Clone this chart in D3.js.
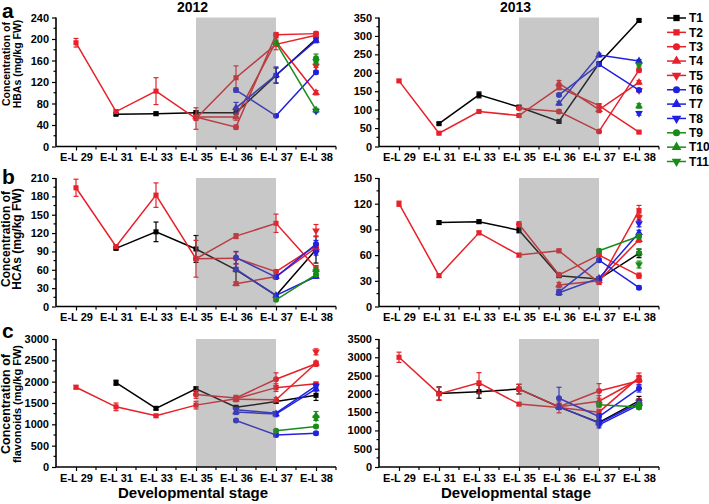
<!DOCTYPE html>
<html><head><meta charset="utf-8">
<script src="https://cdn.jsdelivr.net/npm/d3@7"></script>
<style>
html,body{margin:0;padding:0;background:#fff;}
text{font-family:"Liberation Sans",Arial,sans-serif;font-weight:bold;}
</style></head>
<body><svg id="chart" width="709" height="504"></svg>
<script>
// ---------- data ----------
const stages = ["E-L 29","E-L 31","E-L 33","E-L 35","E-L 36","E-L 37","E-L 38"];
const treatments = ["T1","T2","T3","T4","T5","T6","T7","T8","T9","T10","T11"];
const seriesColors = ["#000000","#e8202a","#e8202a","#e8202a","#e8202a","#2020e0","#2020e0","#2020e0","#178c17","#178c17","#178c17"];
const seriesShapes = ["square","square","circle","up","down","circle","up","down","circle","up","down"];
const years = ["2012","2013"];
const panelLetters = ["a","b","c"];
const yLabelLine1 = ["Concentration of","Concentration of","Concentration of"];
const yLabelLine2 = ["HBAs (mg/kg FW)","HCAs (mg/kg FW)","flavonoids (mg/kg FW)"];
const xTitle = "Developmental stage";
const yTicksA2012 = [0,40,80,120,160,200,240];
const yTicksA2013 = [0,50,100,150,200,250,300,350];
const yTicksB2012 = [0,30,60,90,120,150,180,210];
const yTicksB2013 = [0,30,60,90,120,150];
const yTicksC2012 = [0,500,1000,1500,2000,2500,3000];
const yTicksC2013 = [0,500,1000,1500,2000,2500,3000,3500];
const shadeFrom = "E-L 35", shadeTo = "E-L 37";
const N = null;

const hbas2012 = [
  [N,60,61,63,63,132,200],
  [193,65,103,52,128,190,207],
  [N,N,N,55,36,208,210],
  [N,N,N,55,55,195,100],
  [N,N,N,N,N,N,150],
  [N,N,N,N,105,57,138],
  [N,N,N,N,72,133,197],
  [N,N,N,N,N,N,66],
  [N,N,N,N,N,N,164],
  [N,N,N,N,N,193,68],
  [N,N,N,N,N,N,158]
];
const hbas2012Err = [
  [0,2,3,3,8,14,4],
  [8,3,25,20,22,10,5],
  [0,0,0,0,4,4,4],
  [0,0,0,0,6,8,4],
  [0,0,0,0,0,0,3],
  [0,0,0,0,4,2,3],
  [0,0,0,0,10,15,4],
  [0,0,0,0,0,0,3],
  [0,0,0,0,0,0,8],
  [0,0,0,0,0,4,3],
  [0,0,0,0,0,0,4]
];
const hbas2013 = [
  [N,62,140,107,68,225,342],
  [178,36,95,84,160,111,39],
  [N,N,N,104,95,41,207],
  [N,N,N,N,171,100,174],
  [N,N,N,N,N,N,152],
  [N,N,N,N,140,223,153],
  [N,N,N,N,117,248,232],
  [N,N,N,N,N,N,90],
  [N,N,N,N,N,N,N],
  [N,N,N,N,N,N,110],
  [N,N,N,N,N,N,221]
];
const hbas2013Err = [
  [0,3,8,3,3,3,3],
  [3,2,2,3,6,5,3],
  [0,0,0,3,5,3,5],
  [0,0,0,0,8,8,5],
  [0,0,0,0,0,0,4],
  [0,0,0,0,4,4,4],
  [0,0,0,0,5,5,4],
  [0,0,0,0,0,0,5],
  [0,0,0,0,0,0,0],
  [0,0,0,0,0,0,6],
  [0,0,0,0,0,0,5]
];
const hcas2012 = [
  [N,95,122,94,60,18,93],
  [194,98,182,78,115,136,63],
  [N,N,N,78,79,57,99],
  [N,N,N,N,37,49,96],
  [N,N,N,N,N,N,124],
  [N,N,N,N,80,48,102],
  [N,N,N,N,61,18,49],
  [N,N,N,N,N,N,88],
  [N,N,N,N,N,11,52],
  [N,N,N,N,N,N,60],
  [N,N,N,N,N,N,57]
];
const hcas2012Err = [
  [0,2,16,22,20,3,22],
  [14,3,20,30,4,15,4],
  [0,0,0,0,10,3,4],
  [0,0,0,0,3,3,4],
  [0,0,0,0,0,0,10],
  [0,0,0,0,10,3,6],
  [0,0,0,0,3,3,3],
  [0,0,0,0,0,0,4],
  [0,0,0,0,0,2,3],
  [0,0,0,0,0,0,3],
  [0,0,0,0,0,0,3]
];
const hcas2013 = [
  [N,98,99,89,36,32,62],
  [120,36,86,60,65,28,112],
  [N,N,N,96,37,60,36],
  [N,N,N,N,25,30,78],
  [N,N,N,N,N,N,104],
  [N,N,N,N,17,54,22],
  [N,N,N,N,16,33,86],
  [N,N,N,N,N,N,97],
  [N,N,N,N,N,65,82],
  [N,N,N,N,N,N,63],
  [N,N,N,N,N,N,49]
];
const hcas2013Err = [
  [0,2,2,3,2,2,5],
  [3,2,2,2,2,2,6],
  [0,0,0,3,2,2,3],
  [0,0,0,0,3,2,3],
  [0,0,0,0,0,0,4],
  [0,0,0,0,3,2,2],
  [0,0,0,0,3,2,3],
  [0,0,0,0,0,0,4],
  [0,0,0,0,0,2,3],
  [0,0,0,0,0,0,4],
  [0,0,0,0,0,0,4]
];
const flav2012 = [
  [N,1975,1375,1830,1400,1535,1680],
  [1870,1410,1200,1450,1600,1860,1950],
  [N,N,N,1700,1620,2057,2420],
  [N,N,N,N,1590,1574,2430],
  [N,N,N,N,N,N,2700],
  [N,N,N,N,1090,750,790],
  [N,N,N,N,1290,1240,1830],
  [N,N,N,N,1340,1260,1900],
  [N,N,N,N,N,850,950],
  [N,N,N,N,N,N,1200],
  [N,N,N,N,N,N,1150]
];
const flav2012Err = [
  [0,60,30,50,40,40,120],
  [40,90,30,90,60,90,30],
  [0,0,0,90,60,150,60],
  [0,0,0,0,60,50,50],
  [0,0,0,0,0,0,70],
  [0,0,0,0,30,40,40],
  [0,0,0,0,60,60,50],
  [0,0,0,0,50,40,50],
  [0,0,0,0,0,30,30],
  [0,0,0,0,0,0,100],
  [0,0,0,0,0,0,60]
];
const flav2013 = [
  [N,2010,2060,2130,1640,1220,1810],
  [3000,2000,2300,1720,1630,1500,2450],
  [N,N,N,2130,1650,2080,2360],
  [N,N,N,N,1650,1800,2400],
  [N,N,N,N,N,N,1780],
  [N,N,N,N,1880,1380,2150],
  [N,N,N,N,1650,1200,1750],
  [N,N,N,N,N,1150,1700],
  [N,N,N,N,N,1700,1640],
  [N,N,N,N,N,N,1720],
  [N,N,N,N,N,N,1650]
];
const flav2013Err = [
  [0,180,180,130,60,60,120],
  [140,180,280,40,150,80,120],
  [0,0,0,130,60,200,120],
  [0,0,0,0,60,150,80],
  [0,0,0,0,0,0,80],
  [0,0,0,0,300,80,100],
  [0,0,0,0,80,80,80],
  [0,0,0,0,0,80,100],
  [0,0,0,0,0,60,60],
  [0,0,0,0,0,0,60],
  [0,0,0,0,0,0,60]
];

// ---------- layout ----------
const panels = [
  {row:0,col:0,vals:hbas2012,errs:hbas2012Err,ticks:yTicksA2012},
  {row:0,col:1,vals:hbas2013,errs:hbas2013Err,ticks:yTicksA2013},
  {row:1,col:0,vals:hcas2012,errs:hcas2012Err,ticks:yTicksB2012},
  {row:1,col:1,vals:hcas2013,errs:hcas2013Err,ticks:yTicksB2013},
  {row:2,col:0,vals:flav2012,errs:flav2012Err,ticks:yTicksC2012},
  {row:2,col:1,vals:flav2013,errs:flav2013Err,ticks:yTicksC2013}
];
const colX = [[56,336],[379,659]];
const rowY = [[17.5,146.5],[178,306.5],[339,467]];
const labelCY = [64,239,404];
const labelSize1 = [10.5,12,12.5];
const labelSize2 = [10.5,12,11];

const svg = d3.select("#chart");
const symType = {square:d3.symbolSquare,circle:d3.symbolCircle,up:d3.symbolTriangle,down:d3.symbolTriangle};
const symSize = {square:26,circle:28,up:26,down:26};
function marker(g, shape, x, y, color){
  const p = d3.symbol().type(symType[shape]).size(symSize[shape])();
  g.append("path").attr("d",p).attr("fill",color)
   .attr("transform",`translate(${x},${y})`+(shape==="down"?" rotate(180)":""));
}

panels.forEach(P=>{
  const g = svg.append("g");
  const x = d3.scaleLinear().domain([-0.5,6.5]).range(colX[P.col]);
  const yMax = P.ticks[P.ticks.length-1];
  const y = d3.scaleLinear().domain([0,yMax]).range([rowY[P.row][1],rowY[P.row][0]]);
  const step = P.ticks[1]-P.ticks[0];

  P.vals.forEach((vals,i)=>{
    const color = seriesColors[i];
    const pts = vals.map((v,j)=>({j,v,e:P.errs[i][j]})).filter(d=>d.v!==null);
    const line = d3.line().x(d=>x(d.j)).y(d=>y(d.v));
    if(pts.length>1) g.append("path").attr("d",line(pts)).attr("fill","none")
      .attr("stroke",color).attr("stroke-width",1.5);
    pts.forEach(d=>{
      if(d.e>0){
        const x0=x(d.j), y1=y(d.v-d.e), y2=y(d.v+d.e);
        g.append("line").attr("x1",x0).attr("x2",x0).attr("y1",y1).attr("y2",y2).attr("stroke",color).attr("stroke-width",1.2);
        [y1,y2].forEach(yy=>g.append("line").attr("x1",x0-2.5).attr("x2",x0+2.5).attr("y1",yy).attr("y2",yy).attr("stroke",color).attr("stroke-width",1.2));
      }
      marker(g, seriesShapes[i], x(d.j), y(d.v), color);
    });
  });

  const s0 = stages.indexOf(shadeFrom), s1 = stages.indexOf(shadeTo);
  g.append("rect").attr("x",x(s0)).attr("width",x(s1)-x(s0))
    .attr("y",y(yMax)).attr("height",y(0)-y(yMax))
    .attr("fill","rgb(110,110,110)").attr("fill-opacity",0.38);

  const yAxis = d3.axisLeft(y).tickValues(P.ticks).tickSize(4).tickPadding(3).tickFormat(d3.format("d"));
  const ya = g.append("g").attr("transform",`translate(${colX[P.col][0]},0)`).call(yAxis);
  const minorY = d3.range(step/2, yMax, step);
  ya.selectAll(".minor").data(minorY).enter().append("line").attr("class","minor")
    .attr("x1",-2.5).attr("x2",0).attr("y1",d=>y(d)).attr("y2",d=>y(d)).attr("stroke","#000").attr("stroke-width",1.2);
  const xAxis = d3.axisBottom(x).tickValues(d3.range(stages.length)).tickFormat(i=>stages[i]).tickSize(4).tickPadding(3);
  const xa = g.append("g").attr("transform",`translate(0,${rowY[P.row][1]})`).call(xAxis);
  xa.selectAll(".minor").data(d3.range(0.5,6.6,1)).enter().append("line").attr("class","minor")
    .attr("x1",d=>x(d)).attr("x2",d=>x(d)).attr("y1",0).attr("y2",3).attr("stroke","#000").attr("stroke-width",1.2);
  [ya,xa].forEach(a=>{
    a.select(".domain").attr("stroke","#000").attr("stroke-width",1.6);
    a.selectAll(".tick line").attr("stroke","#000").attr("stroke-width",1.2);
    a.selectAll(".tick text").attr("fill","#000").style("font-size","11px").style("font-weight","bold")
      .style("font-family","'Liberation Sans',Arial,sans-serif");
  });
  ya.select(".domain").attr("d",`M0,${y(yMax)}V${y(0)}`);
  xa.select(".domain").attr("d",`M${colX[P.col][0]},0H${colX[P.col][1]}`);

  if(P.row===0){
    svg.append("text").attr("x", P.col===0?192.5:515.5).attr("y",12)
      .attr("text-anchor","middle").style("font-size","14px").text(years[P.col]);
  }
  if(P.row===2){
    svg.append("text").attr("x",(colX[P.col][0]+colX[P.col][1])/2-3).attr("y",498)
      .attr("text-anchor","middle").style("font-size","15px").text(xTitle);
  }
  if(P.col===0){
    const cy = labelCY[P.row];
    svg.append("text").attr("transform",`translate(10,${cy}) rotate(-90)`).attr("text-anchor","middle")
      .style("font-size",labelSize1[P.row]+"px").text(yLabelLine1[P.row]);
    svg.append("text").attr("transform",`translate(21,${cy}) rotate(-90)`).attr("text-anchor","middle")
      .style("font-size",labelSize2[P.row]+"px").text(yLabelLine2[P.row]);
    svg.append("text").attr("x",2).attr("y",[18,184,338][P.row]).style("font-size","21px").text(panelLetters[P.row]);
  }
});

const lg = svg.append("g");
treatments.forEach((t,i)=>{
  const yy = 18 + i*14.35;
  lg.append("line").attr("x1",667).attr("x2",686).attr("y1",yy).attr("y2",yy).attr("stroke",seriesColors[i]).attr("stroke-width",1.5);
  const p = d3.symbol().type(symType[seriesShapes[i]]).size(40)();
  lg.append("path").attr("d",p).attr("fill",seriesColors[i])
    .attr("transform",`translate(676.5,${yy})`+(seriesShapes[i]==="down"?" rotate(180)":""));
  lg.append("text").attr("x",689).attr("y",yy).attr("dy","0.36em").style("font-size","12px").text(t);
});
</script></body></html>
